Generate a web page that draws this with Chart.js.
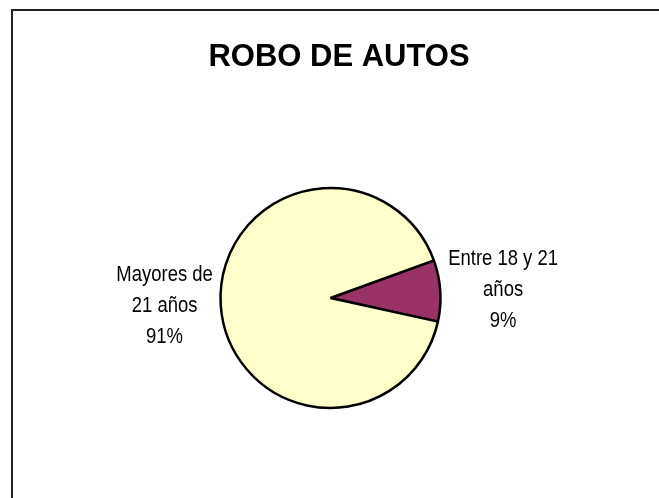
<!DOCTYPE html>
<html>
<head>
<meta charset="utf-8">
<script src="https://cdn.jsdelivr.net/npm/chart.js@4"></script>
<style>
  html, body { margin: 0; padding: 0; background: #fff; }
  #wrap { position: relative; width: 659px; height: 498px; }
</style>
</head>
<body>
<div id="wrap"><canvas id="pie-chart"></canvas></div>
<script>
// data
const chartTitle = 'ROBO DE AUTOS';
const categories = [['Entre 18 y 21', 'años'], ['Mayores de', '21 años']];
const values = [9, 91];
const sliceColors = ['#993366', '#FFFFCC'];

// Arial Narrow look: use the narrow face if installed, otherwise squeeze the normal one
function hasFont(name) {
  const c = document.createElement('canvas').getContext('2d');
  c.font = '20px monospace';
  const a = c.measureText('Entre 18 y 21 años').width;
  c.font = `20px "${name}", monospace`;
  return c.measureText('Entre 18 y 21 años').width !== a;
}
const narrow = hasFont('Liberation Sans Narrow');
const labelFont = narrow ? '22.5px "Liberation Sans Narrow"' : '22.5px "Liberation Sans", Arial, sans-serif';
const squeeze = narrow ? 1 : 0.82;

// frame + title
const framePlugin = {
  id: 'frame',
  beforeDraw(chart) {
    const ctx = chart.ctx;
    ctx.save();
    ctx.fillStyle = '#fff';
    ctx.fillRect(0, 0, chart.width, chart.height);
    ctx.strokeStyle = '#222';
    ctx.lineWidth = 2;
    ctx.strokeRect(12, 10, 700, 600);
    ctx.fillStyle = '#000';
    ctx.font = 'bold 31px "Liberation Sans", Arial, sans-serif';
    ctx.textAlign = 'center';
    ctx.textBaseline = 'middle';
    ctx.fillText(chartTitle, 339, 57);
    ctx.restore();
  }
};

// outside labels: name + percentage, like Excel's best fit
const labelPlugin = {
  id: 'sliceLabels',
  afterDatasetsDraw(chart) {
    const ctx = chart.ctx;
    const total = values.reduce((a, b) => a + b, 0);
    const meta = chart.getDatasetMeta(0);
    ctx.save();
    ctx.font = labelFont;
    ctx.fillStyle = '#000';
    ctx.textAlign = 'center';
    ctx.textBaseline = 'middle';
    meta.data.forEach((arc, i) => {
      const p = arc.getProps(['x', 'y', 'startAngle', 'endAngle', 'outerRadius'], true);
      const mid = (p.startAngle + p.endAngle) / 2;
      const px = p.x + Math.cos(mid) * (p.outerRadius + 8);
      const py = p.y + Math.sin(mid) * (p.outerRadius + 8);
      const lines = [...categories[i], Math.round(values[i] / total * 100) + '%'];
      const w = Math.max(...lines.map(l => ctx.measureText(l).width)) * squeeze;
      const cx = Math.cos(mid) >= 0 ? px + w / 2 : px - w / 2;
      const lh = 31;
      lines.forEach((line, k) => {
        ctx.save();
        ctx.translate(cx, py + (k - (lines.length - 1) / 2) * lh);
        ctx.scale(squeeze, 1);
        ctx.fillText(line, 0, 0);
        ctx.restore();
      });
    });
    ctx.restore();
  }
};

new Chart(document.getElementById('pie-chart'), {
  type: 'pie',
  data: {
    labels: categories.map(c => c.join(' ')),
    datasets: [{
      data: values,
      backgroundColor: sliceColors,
      borderColor: '#000',
      borderWidth: 2.5
    }]
  },
  options: {
    responsive: true,
    maintainAspectRatio: false,
    animation: false,
    rotation: 70,
    radius: 110,
    layout: { padding: { top: 98, left: 2, right: 0, bottom: 0 } },
    plugins: {
      legend: { display: false },
      title: { display: false },
      tooltip: { enabled: false }
    }
  },
  plugins: [framePlugin, labelPlugin]
});
</script>
</body>
</html>
